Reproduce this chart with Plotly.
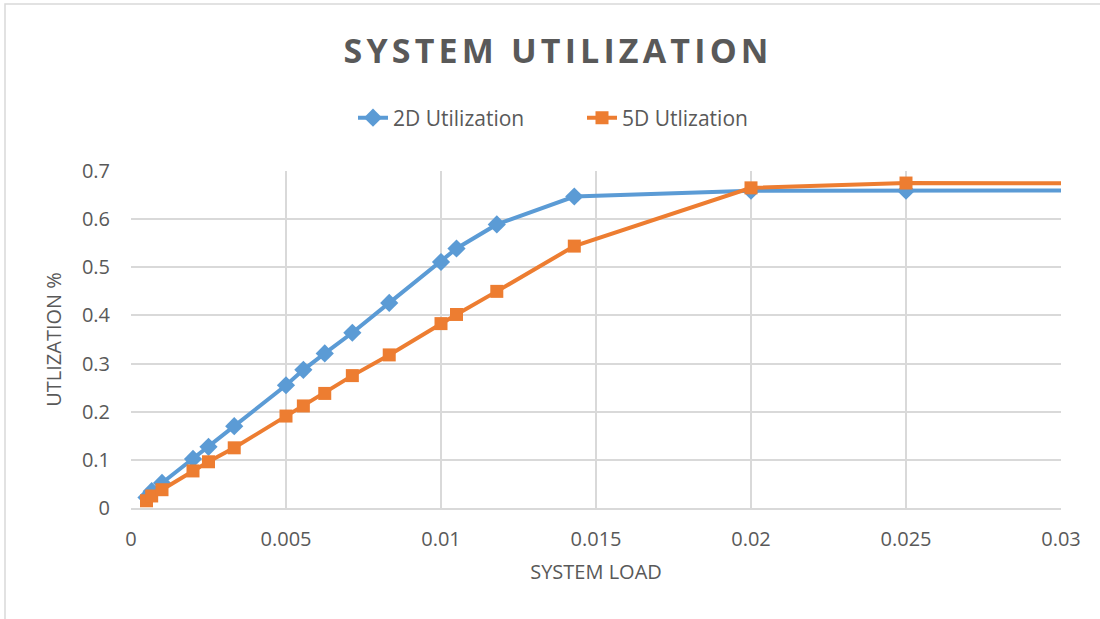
import plotly.graph_objects as go

# System load values (shared by both series)
load = [0.0005, 0.000667, 0.001, 0.002, 0.0025, 0.00333, 0.005, 0.00556,
        0.00625, 0.00714, 0.00833, 0.01, 0.0105, 0.0118, 0.0143, 0.02,
        0.025, 0.0333]

util_2d = [0.022, 0.035, 0.052, 0.102, 0.127, 0.170, 0.255, 0.287,
           0.321, 0.364, 0.426, 0.511, 0.539, 0.589, 0.647, 0.659,
           0.659, 0.660]

util_5d = [0.015, 0.025, 0.038, 0.077, 0.096, 0.125, 0.191, 0.212,
           0.238, 0.275, 0.318, 0.383, 0.402, 0.450, 0.544, 0.665,
           0.675, 0.674]

x_ticks = [0, 0.005, 0.01, 0.015, 0.02, 0.025, 0.03]
x_tick_text = ["0", "0.005", "0.01", "0.015", "0.02", "0.025", "0.03"]
y_ticks = [0, 0.1, 0.2, 0.3, 0.4, 0.5, 0.6, 0.7]
y_tick_text = ["0", "0.1", "0.2", "0.3", "0.4", "0.5", "0.6", "0.7"]

TITLE = "SYSTEM UTILIZATION"

BLUE = "#5B9BD5"
ORANGE = "#ED7D31"
TEXT = "#595959"
GRID = "#D9D9D9"
FONT = "Open Sans, sans-serif"


def spaced(text, gap_px=25):
    """Widen letter spacing by putting a small thin space between letters."""
    gap = f'<span style="font-size:{gap_px}px">\u2009</span>'
    return gap.join(text)


fig = go.Figure()
fig.add_trace(go.Scatter(
    x=load, y=util_2d, name="2D Utilization", mode="lines+markers",
    line=dict(color=BLUE, width=4),
    marker=dict(symbol="diamond", size=14, color=BLUE),
))
fig.add_trace(go.Scatter(
    x=load, y=util_5d, name="5D Utlization", mode="lines+markers",
    line=dict(color=ORANGE, width=4),
    marker=dict(symbol="square", size=13, color=ORANGE),
))

W, H = 1100, 619
L, R, T, B = 131, 39, 171, 111
pw, ph = W - L - R, H - T - B

fig.update_layout(
    width=W, height=H,
    margin=dict(l=L, r=R, t=T, b=B),
    paper_bgcolor="white", plot_bgcolor="white",
    font=dict(family=FONT, color=TEXT),
    title=dict(text="<b>" + spaced(TITLE) + "</b>",
               x=556 / W, xanchor="center", y=1 - 51 / H, yanchor="middle",
               font=dict(size=34, color=TEXT, family=FONT)),
    legend=dict(orientation="h", x=(582 - L) / pw, xanchor="center",
                y=1 + (T - 118) / ph, yanchor="middle",
                font=dict(size=21, color=TEXT),
                entrywidthmode="pixels", entrywidth=184),
    xaxis=dict(range=[0, 0.03], tickvals=x_ticks, ticktext=x_tick_text,
               showgrid=True, gridcolor=GRID, gridwidth=1.5,
               showline=True, linecolor=GRID, linewidth=1.5,
               zeroline=False, ticks="", tickfont=dict(size=20, color=TEXT),
               ticklabelstandoff=12,
               title=dict(text="SYSTEM LOAD", font=dict(size=20, color=TEXT),
                          standoff=14)),
    yaxis=dict(range=[0, 0.7], tickvals=y_ticks, ticktext=y_tick_text,
               showgrid=True, gridcolor=GRID, gridwidth=1.5,
               zeroline=False, ticks="", tickfont=dict(size=20, color=TEXT),
               ticklabelstandoff=20,
               title=dict(text="UTLIZATION %", font=dict(size=20, color=TEXT),
                          standoff=14)),
    showlegend=True,
)

# Light chart-area border around the whole figure
fig.add_shape(type="rect", xref="paper", yref="paper",
              x0=(5 - L) / pw, x1=(W + 5 - L) / pw,
              y0=(H - B - (H + 5)) / ph, y1=(H - B - 4) / ph,
              line=dict(color=GRID, width=1.5), layer="below")

fig.write_html("out.html")
